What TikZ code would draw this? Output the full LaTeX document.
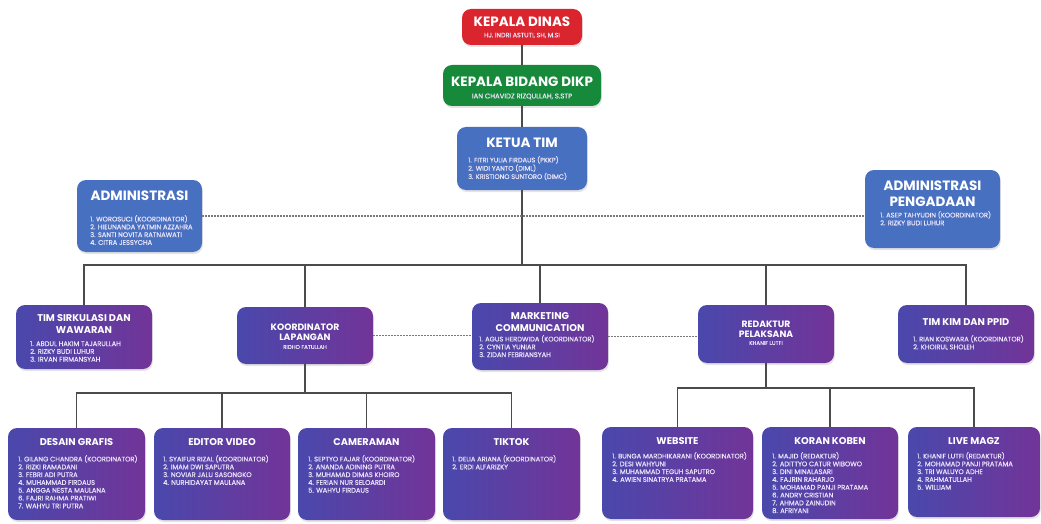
\documentclass[tikz,border=0pt]{standalone}
\usepackage{fontspec}
\setmainfont{Poppins}
\newfontfamily\lstfont{Poppins}[FakeBold=0.5]
\usetikzlibrary{shadows}
\definecolor{kred}{RGB}{218,36,46}
\definecolor{kgreen}{RGB}{22,138,58}
\definecolor{kblue}{RGB}{72,112,192}
\definecolor{pleft}{RGB}{74,72,172}
\definecolor{pright}{RGB}{114,52,152}
\definecolor{lnc}{RGB}{75,75,75}
\definecolor{dotc}{RGB}{120,120,120}
\definecolor{txtc}{RGB}{234,228,250}
\newcommand\OBox[6]{\node[#6, minimum width={#4-#2}, minimum height={#5-#3}] (#1) at ({(#2+#4)/2},{(#3+#5)/2}) {};}
\tikzset{
 box/.style={rounded corners=9pt, inner sep=0pt, draw=none, drop shadow={opacity=0.22, shadow xshift=0.8pt, shadow yshift=-2pt}},
 redbox/.style={box, fill=kred},
 greenbox/.style={box, fill=kgreen},
 bluebox/.style={box, fill=kblue},
 purbox/.style={box, left color=pleft, right color=pright},
 ttl/.style={text=white, font=\bfseries\fontsize{13.5}{16.5}\selectfont, align=center, inner sep=0pt},
 sttl/.style={text=white, font=\bfseries\fontsize{9.8}{11.8}\selectfont, align=center, inner sep=0pt},
 subt/.style={text=txtc, font=\lstfont\fontsize{6.4}{7}\selectfont, inner sep=0pt},
 lst/.style={text=txtc, font=\lstfont\fontsize{6.7}{7.8}\selectfont, align=left, inner sep=0pt, anchor=north west},
 conn/.style={draw=lnc, line width=1.3pt},
 dots/.style={draw=dotc, line width=1.5pt, dash pattern=on 1.5pt off 1.5pt},
}
\begin{document}
\begin{tikzpicture}[x=1pt,y=-1pt]
\useasboundingbox (0,0) rectangle (1041,524);
% ---- top ----
\OBox{kadis}{462}{9}{582}{45}{redbox}
\node[ttl] (kadis-t) at (522,22) {KEPALA DINAS};
\node[subt] (kadis-s) at (522,35.5) {HJ. INDRI ASTUTI, SH, M.SI};
\OBox{kabid}{443}{65}{601}{106}{greenbox}
\node[ttl] (kabid-t) at (522,82) {KEPALA BIDANG DIKP};
\node[subt, font=\lstfont\fontsize{6.9}{7}\selectfont] (kabid-s) at (522,96.5) {IAN CHAVIDZ RIZQULLAH, S.STP};
\OBox{ketua}{457}{127}{587}{190}{bluebox}
\node[ttl] (ketua-t) at (522,143) {KETUA TIM};
\node[lst, font=\lstfont\fontsize{6.6}{8.3}\selectfont] (ketua-l) at (468,156) {1. FITRI YULIA FIRDAUS (PKKP)\\2. WIDI YANTO (DIML)\\3. KRISTIONO SUNTORO (DIMC)};
\OBox{admin}{77}{180}{202}{252}{bluebox}
\node[ttl] (admin-t) at (139.5,196) {ADMINISTRASI};
\node[lst] (admin-l) at (90,215) {1. WOROSUCI (KOORDINATOR)\\2. HIEUNANDA YATMIN AZZAHRA\\3. SANTI NOVITA RATNAWATI\\4. CITRA JESSYCHA};
\OBox{peng}{865}{170}{1000}{248}{bluebox}
\node[ttl] (peng-t) at (932.5,193.5) {ADMINISTRASI\\PENGADAAN};
\node[lst] (peng-l) at (880,211) {1. ASEP TAHYUDIN (KOORDINATOR)\\2. RIZKY BUDI LUHUR};
% ---- row 2 ----
\OBox{sirk}{16}{305}{152}{369}{purbox}
\node[sttl] (sirk-t) at (84,324) {TIM SIRKULASI DAN\\WAWARAN};
\node[lst] (sirk-l) at (30,341) {1. ABDUL HAKIM TAJARULLAH\\2. RIZKY BUDI LUHUR\\3. IRVAN FIRMANSYAH};
\OBox{koord}{237}{307}{373}{364}{purbox}
\node[sttl, font=\bfseries\fontsize{9.2}{10.5}\selectfont] (koord-t) at (305,332) {KOORDINATOR\\LAPANGAN};
\node[subt, font=\lstfont\fontsize{5.5}{6}\selectfont] (koord-s) at (305,347) {RIDHO FATULLAH};
\OBox{mkt}{472}{303}{608}{370}{purbox}
\node[sttl] (mkt-t) at (540,322) {MARKETING\\COMMUNICATION};
\node[lst] (mkt-l) at (479,335) {1. AGUS HERDWIDA (KOORDINATOR)\\2. CYNTIA YUNIAR\\3. ZIDAN FEBRIANSYAH};
\OBox{red}{698}{305}{834}{363}{purbox}
\node[sttl, font=\bfseries\fontsize{9.2}{10.5}\selectfont] (red-t) at (766,329.5) {REDAKTUR\\PELAKSANA};
\node[subt, font=\lstfont\fontsize{5.5}{6}\selectfont] (red-s) at (766,343) {KHANIF LUTFI};
\OBox{kim}{898}{305}{1034}{363}{purbox}
\node[sttl] (kim-t) at (966,322) {TIM KIM DAN PPID};
\node[lst] (kim-l) at (913,335) {1. RIAN KOSWARA (KOORDINATOR)\\2. KHOIRUL SHOLEH};
% ---- row 3 ----
\OBox{desain}{8}{428}{145}{520}{purbox}
\node[sttl] (desain-t) at (76.5,442) {DESAIN GRAFIS};
\node[lst] (desain-l) at (18,455) {1. GILANG CHANDRA (KOORDINATOR)\\2. RIZKI RAMADANI\\3. FEBRI ADI PUTRA\\4. MUHAMMAD FIRDAUS\\5. ANGGA NESTA MAULANA\\6. FAJRI RAHMA PRATIWI\\7. WAHYU TRI PUTRA};
\OBox{editor}{154}{428}{290}{520}{purbox}
\node[sttl] (editor-t) at (222,442) {EDITOR VIDEO};
\node[lst] (editor-l) at (163,455) {1. SYAIFUR RIZAL (KOORDINATOR)\\2. IMAM DWI SAPUTRA\\3. NOVIAR JALU SASONGKO\\4. NURHIDAYAT MAULANA};
\OBox{camera}{298}{428}{435}{520}{purbox}
\node[sttl] (camera-t) at (366.5,442) {CAMERAMAN};
\node[lst] (camera-l) at (308,455) {1. SEPTYO FAJAR (KOORDINATOR)\\2. ANANDA ADINING PUTRA\\3. MUHAMAD DIMAS KHOIRO\\4. FERIAN NUR SELOARDI\\5. WAHYU FIRDAUS};
\OBox{tiktok}{443}{428}{580}{520}{purbox}
\node[sttl] (tiktok-t) at (511.5,442) {TIKTOK};
\node[lst] (tiktok-l) at (452,455) {1. DELIA ARIANA (KOORDINATOR)\\2. ERDI ALFARIZKY};
\OBox{web}{602}{427}{753}{519}{purbox}
\node[sttl] (web-t) at (677.5,441) {WEBSITE};
\node[lst] (web-l) at (612,452) {1. BUNGA MARDHIKARANI (KOORDINATOR)\\2. DESI WAHYUNI\\3. MUHAMMAD TEGUH SAPUTRO\\4. AWIEN SINATRYA PRATAMA};
\OBox{koran}{762}{427}{898}{519}{purbox}
\node[sttl] (koran-t) at (830,441) {KORAN KOBEN};
\node[lst] (koran-l) at (772,452) {1. MAJID (REDAKTUR)\\2. ADITTYO CATUR WIBOWO\\3. DINI MINALASARI\\4. FAJRIN RAHARJO\\5. MOHAMAD PANJI PRATAMA\\6. ANDRY CRISTIAN\\7. AHMAD ZAINUDIN\\8. AFRIYANI};
\OBox{live}{908}{427}{1040}{517}{purbox}
\node[sttl] (live-t) at (974,441) {LIVE MAGZ};
\node[lst] (live-l) at (917,452) {1. KHANIF LUTFI (REDAKTUR)\\2. MOHAMAD PANJI PRATAMA\\3. TRI WALUYO ADHE\\4. RAHMATULLAH\\5. WILLIAM};
% ---- connectors ----
\coordinate (bus1) at (522,265);
\coordinate (busL) at (305,393);
\coordinate (busR) at (766,388);
\draw[conn] (kadis) -- (kabid);
\draw[conn] (kabid) -- (ketua);
\draw[conn] (ketua) -- (bus1);
\draw[conn] (bus1) -| (sirk);
\draw[conn] (bus1) -| (koord);
\draw[conn] (bus1) -| (mkt);
\draw[conn] (bus1) -| (red);
\draw[conn] (bus1) -| (kim);
\draw[conn] (koord) -- (busL);
\draw[conn] (busL) -| (desain);
\draw[conn] (busL) -| (editor);
\draw[conn] (busL) -| (camera);
\draw[conn] (busL) -| (tiktok);
\draw[conn] (red) -- (busR);
\draw[conn] (busR) -| (web);
\draw[conn] (busR) -| (koran);
\draw[conn] (busR) -| (live);
\draw[dots] (admin.east) -- (admin.east -| peng.west);
\draw[dots] (koord.east) -- (koord.east -| mkt.west);
\draw[dots] (mkt.east) -- (mkt.east -| red.west);
\end{tikzpicture}
\end{document}
